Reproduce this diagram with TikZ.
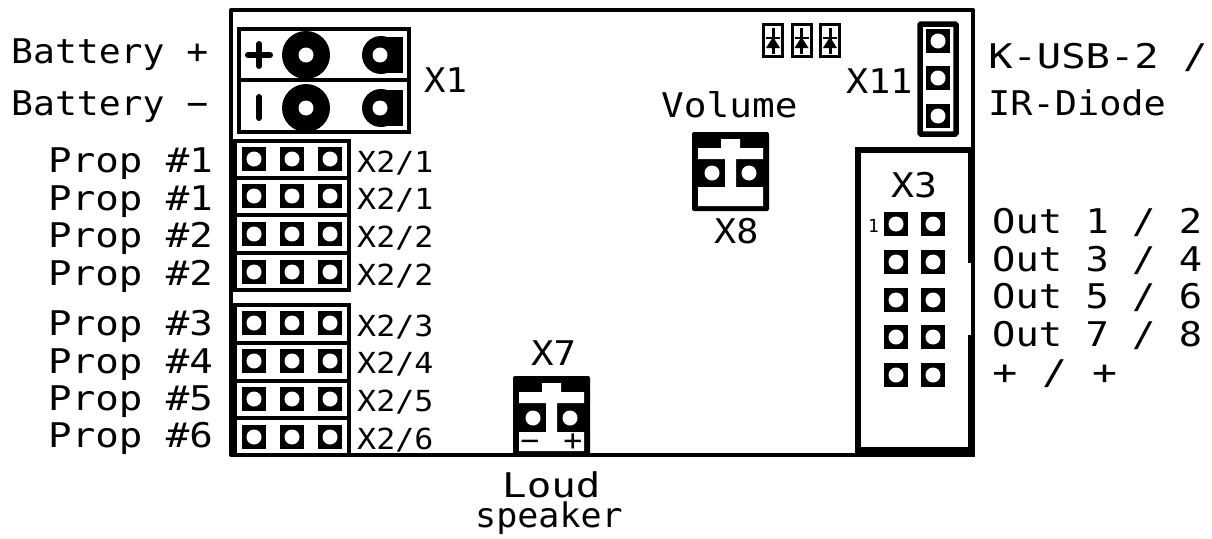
\documentclass[tikz,border=0pt]{standalone}
\usepackage{fontspec}
\newfontfamily\pcbfont{DejaVu Sans Mono}
\tikzset{
  board/.style={line width=4pt,line join=round},
  wall/.style={line width=4pt},
  lbl/.style={anchor=base west,inner sep=0pt,font=\pcbfont\fontsize{34}{36}\selectfont,xscale=#1,transform shape},
  lbl/.default=1.1,
  lblsmall/.style={anchor=base west,inner sep=0pt,font=\pcbfont\fontsize{29}{31}\selectfont,xscale=1.09,transform shape},
  pin/.style={rectangle,fill=black,inner sep=0pt,minimum size=24pt,
    path picture={\fill[white] (path picture bounding box.center) circle (7.5);}},
  hole/.style={fill=white}
}
\begin{document}
\begin{tikzpicture}[x=1pt,y=-1pt]
  \useasboundingbox (0,0) rectangle (1212,538);
  % board outline
  \draw[board] (860,455) -- (231,455) -- (231,10) -- (973,10) -- (973,150);
  % X1
  \draw[wall] (239,28.5) rectangle (409,131.5);
  \draw[wall] (239,80) -- (409,80);
  \draw[line width=6pt,line cap=round] (248,55) -- (270,55);
  \draw[line width=6pt,line cap=round] (259,44) -- (259,66);
  \draw[line width=6pt,line cap=round] (259,97) -- (259,118);
  \foreach \y in {55,108} {%
    \fill (306,\y) circle (24);
    \fill[hole] (306,\y) circle (7.5);
    \fill (381,\y) circle (19);
    \fill (381,\y-18) rectangle (403,\y+18);
    \fill[hole] (380,\y) circle (7.5);
  }
  % X2
  \foreach \top/\bot in {141/177.5,177.5/214.5,214.5/252.5,252.5/290,305/342.5,342.5/380.5,380.5/418,418/455} {%
    \draw[wall] (235,\top) rectangle (349,\bot);
  }
  \foreach \row in {159,196,234,272,323,361,399,437} {%
    \foreach \col in {254,292,330} {%
      \node[pin] (pin\col\row) at (\col,\row) {};
    }
  }
  % X3
  \fill (855,147) rectangle (975,457);
  \fill[white] (861,153) rectangle (968,447);
  \fill[white] (968,263) rectangle (971,335);
  \foreach \row in {224,262,300,337,375} {%
    \foreach \col in {896,933} {%
      \node[pin] (hdr\col\row) at (\col,\row) {};
    }
  }
  % X7 and X8
  \foreach \ox/\oy/\ht in {513/376/80,692/132/79} {%
    \begin{scope}[shift={(\ox,\oy)}]
      \fill[rounded corners=2pt] (0,0) rectangle (77,\ht);
      \fill[white] (6,16) -| (29,7) -| (48,16) -| (71,27) -| (44,\ht-24) -| (71,\ht-5) -| (6,\ht-24) -| (33,27) -| (6,16) -- cycle;
      \fill[hole] (20,\ht-38) circle (7.5);
      \fill[hole] (57,\ht-38) circle (7.5);
    \end{scope}
  }
  % X11
  \draw[line width=5.5pt,rounded corners=1pt] (920,24) rectangle (956,134);
  \foreach \row in {41,78,116} {%
    \node[pin] (jmp\row) at (938,\row) {};
  }
  % diodes
  \foreach \x in {773,801.5,830} {%
    \draw[line width=3pt] (\x-9.5,24.5) rectangle (\x+9.5,56.5);
    \draw[line width=3pt] (\x,28) -- (\x,54);
    \draw[line width=2.5pt] (\x-7,38) -- (\x+7,38);
    \fill (\x,37) -- (\x+7,48) -- (\x-7,48) -- cycle;
  }
  % labels
  \node[lbl=1.07] (batp) at (11,63) {Battery +};
  \node[lbl=1.07] (batm) at (11,115) {Battery −};
  \node[lbl=1.05] (lblXone) at (424,92) {X1};
  \node[lbl=1.08] (lblXeleven) at (846,93) {X11};
  \node[lbl=1.11] (lblVol) at (661,117) {Volume};
  \node[lbl=1.08] (lblXeight) at (714,243) {X8};
  \node[lbl=1.1] (lblXseven) at (531,365) {X7};
  \node[lbl=1.12] (lblXthree) at (891,197) {X3};
  \node[lbl=1.19] (lblUsb) at (988,68) {K-USB-2 /};
  \node[lbl=1.085] (lblIr) at (988,115) {IR-Diode};
  \node[lbl=1.2] (lblLoud) at (502,497) {Loud};
  \node[lbl=1.03] (lblSpk) at (475,527) {speaker};
  \foreach \n/\txt/\y in {a/Prop \#1/172,b/Prop \#1/210,c/Prop \#2/247,d/Prop \#2/285,e/Prop \#3/335,f/Prop \#4/373,g/Prop \#5/410,h/Prop \#6/447} {%
    \node[lbl=1.15] (prop\n) at (48,\y) {\txt};
  }
  \foreach \n/\txt/\y in {a/X2\slash 1/172,b/X2\slash 1/209,c/X2\slash 2/247,d/X2\slash 2/285,e/X2\slash 3/336,f/X2\slash 4/373,g/X2\slash 5/411,h/X2\slash 6/449} {%
    \node[lblsmall] (conn\n) at (357,\y) {\txt};
  }
  \foreach \n/\txt/\y in {a/Out 1 \slash{} 2/233,b/Out 3 \slash{} 4/271,c/Out 5 \slash{} 6/308,d/Out 7 \slash{} 8/346} {%
    \node[lbl=1.14] (out\n) at (992,\y) {\txt};
  }
  \node[lbl=1.22] (oute) at (992,384) {+ \slash{} +};
  \node[anchor=base west,inner sep=0pt,font=\pcbfont\fontsize{18}{20}\selectfont] (lblPinone) at (868,232) {1};
  \node[lblsmall,anchor=base] (lblMinus) at (530,450) {−};
  \node[lblsmall,anchor=base] (lblPlus) at (573,450) {+};
\end{tikzpicture}
\end{document}
